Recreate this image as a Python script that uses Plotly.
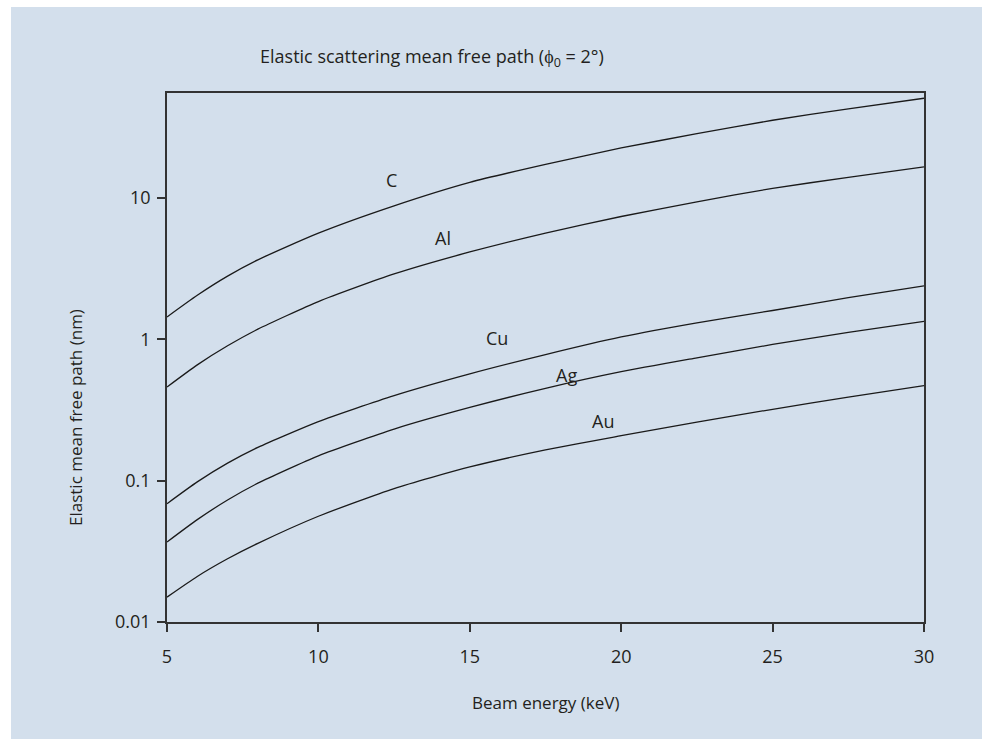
import math
import plotly.graph_objects as go

energy = [5, 6, 7, 8, 10, 12.5, 15, 17.5, 20, 22.5, 25, 27.5, 30]

mfp_C = [1.44, 2.05, 2.8, 3.65, 5.64, 8.8, 12.9, 17.3, 22.6, 28.5, 35.5, 42.8, 50.8]
mfp_Al = [0.46, 0.66, 0.90, 1.18, 1.85, 2.9, 4.15, 5.65, 7.4, 9.4, 11.7, 14.0, 16.6]
mfp_Cu = [0.0687, 0.098, 0.133, 0.172, 0.262, 0.40, 0.57, 0.78, 1.04, 1.31, 1.6, 1.97, 2.39]
mfp_Ag = [0.0368, 0.053, 0.073, 0.096, 0.150, 0.232, 0.33, 0.45, 0.59, 0.74, 0.92, 1.12, 1.34]
mfp_Au = [0.0150, 0.021, 0.028, 0.036, 0.056, 0.088, 0.125, 0.165, 0.208, 0.26, 0.32, 0.39, 0.47]

series = {"C": mfp_C, "Al": mfp_Al, "Cu": mfp_Cu, "Ag": mfp_Ag, "Au": mfp_Au}

label_names = ["C", "Al", "Cu", "Ag", "Au"]
label_x = [12.4, 14.1, 15.9, 18.2, 19.4]
label_y = [13.5, 5.2, 1.02, 0.56, 0.265]

x_ticks = [5, 10, 15, 20, 25, 30]
y_ticks = [0.01, 0.1, 1, 10]
y_ticklabels = ["0.01", "0.1", "1", "10"]

FONT = "Open Sans"
TXT = "#231f20"
BG = "#d3dfec"

fig = go.Figure()
for name, vals in series.items():
    fig.add_trace(go.Scatter(x=energy, y=vals, mode="lines", name=name,
                             line=dict(color="#1a1a1a", width=1.3, shape="spline", smoothing=0.6),
                             showlegend=False, hoverinfo="x+y"))

for n, lx, ly in zip(label_names, label_x, label_y):
    fig.add_annotation(x=lx, y=math.log10(ly), yref="y", xref="x", text=n, showarrow=False,
                       font=dict(family=FONT, size=18, color=TXT))

W, H = 982, 739
ml, mr, mt, mb = 167, 58, 93, 117
pw, ph = W - ml - mr, H - mt - mb

def px_x(p):
    return (p - ml) / pw

def px_y(p):
    return (H - mb - p) / ph

fig.add_shape(type="rect", xref="paper", yref="paper",
              x0=px_x(11), x1=px_x(W + 5), y0=px_y(7), y1=px_y(H + 5),
              fillcolor=BG, line=dict(width=0), layer="below")

fig.add_annotation(xref="paper", yref="paper", x=px_x(258), y=px_y(57),
                   xanchor="left", yanchor="middle", showarrow=False,
                   text="Elastic scattering mean free path (ϕ<sub>0</sub> = 2°)",
                   font=dict(family=FONT, size=18, color=TXT))
fig.add_annotation(xref="paper", yref="paper", x=0.5, y=px_y(702),
                   xanchor="center", yanchor="middle", showarrow=False,
                   text="Beam energy (keV)", font=dict(family=FONT, size=17, color=TXT))
fig.add_annotation(xref="paper", yref="paper", x=px_x(75), y=px_y(418),
                   xanchor="center", yanchor="middle", showarrow=False, textangle=-90,
                   text="Elastic mean free path (nm)", font=dict(family=FONT, size=17, color=TXT))

axis_common = dict(showline=True, linecolor="#333333", linewidth=1.5, mirror=True,
                   showgrid=False, zeroline=False, ticks="outside", ticklen=8,
                   tickwidth=1.5, tickcolor="#333333",
                   tickfont=dict(family=FONT, size=18, color=TXT))

fig.update_xaxes(range=[5, 30], tickvals=x_ticks, ticktext=[str(v) for v in x_ticks],
                 ticklabelstandoff=10, **axis_common)
fig.update_yaxes(type="log", range=[-2, 1.743], tickvals=y_ticks, ticktext=y_ticklabels,
                 ticklabelstandoff=3, **axis_common)

fig.update_layout(width=W, height=H, margin=dict(l=ml, r=mr, t=mt, b=mb, pad=0),
                  paper_bgcolor="white", plot_bgcolor=BG,
                  font=dict(family=FONT, size=18, color=TXT))

fig.write_html("out.html")
